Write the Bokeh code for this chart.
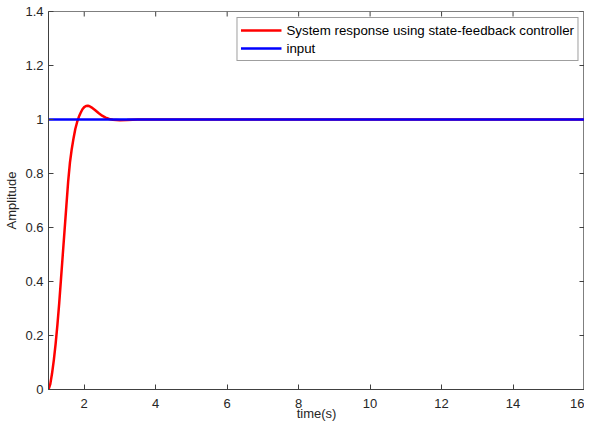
from bokeh.plotting import figure
from bokeh.models import Range1d, FixedTicker, Legend, LegendItem
from bokeh.embed import file_html
from bokeh.resources import INLINE

# data
t_resp = [1.0, 1.05, 1.1, 1.15, 1.2, 1.25, 1.3, 1.35, 1.4, 1.45, 1.5, 1.55, 1.6, 1.65,
          1.7, 1.75, 1.8, 1.85, 1.9, 1.95, 2.0, 2.05, 2.1, 2.15, 2.2, 2.3, 2.4, 2.5,
          2.6, 2.7, 2.8, 3.0, 3.2, 3.5, 16.0]
y_resp = [0.0, 0.02, 0.06, 0.11, 0.17, 0.24, 0.32, 0.41, 0.50, 0.59, 0.68, 0.77, 0.84, 0.89,
          0.93, 0.965, 0.99, 1.01, 1.025, 1.038, 1.046, 1.05, 1.051, 1.049, 1.045, 1.035, 1.024, 1.014,
          1.007, 1.002, 0.999, 0.997, 0.998, 1.0, 1.0]
t_input = [1.0, 16.0]
y_input = [1.0, 1.0]
x_ticks = [2, 4, 6, 8, 10, 12, 14, 16]
y_ticks = [0, 0.2, 0.4, 0.6, 0.8, 1, 1.2, 1.4]
legend_labels = ["System response using state-feedback controller", "input"]

FONT = "Liberation Sans"
X0, X1, Y0, Y1 = 1, 16, 0, 1.4
p = figure(width=584, height=423, output_backend="svg", toolbar_location=None,
           x_range=Range1d(X0, X1), y_range=Range1d(Y0, Y1),
           min_border_left=48, min_border_right=0, min_border_top=11, min_border_bottom=30)
p.xgrid.visible = False
p.ygrid.visible = False
p.outline_line_color = "#7f7f7f"
p.outline_line_width = 1

# inward ticks on the top and right edges of the box (MATLAB style)
tick_dx = (X1 - X0) * 5 / 533
tick_dy = (Y1 - Y0) * 5 / 377
p.segment(x0=x_ticks, x1=x_ticks, y0=[Y1] * len(x_ticks), y1=[Y1 - tick_dy] * len(x_ticks),
          line_color="#404040", line_width=1)
p.segment(x0=[X1] * len(y_ticks), x1=[X1 - tick_dx] * len(y_ticks), y0=y_ticks, y1=y_ticks,
          line_color="#404040", line_width=1)

r1 = p.line(t_resp, y_resp, line_color="#ff0000", line_width=2.5)
r2 = p.line(t_input, y_input, line_color="#0000ff", line_width=2.5)

xa = p.xaxis[0]
xa.ticker = FixedTicker(ticks=x_ticks)
ya = p.yaxis[0]
ya.ticker = FixedTicker(ticks=y_ticks)
for ax in (xa, ya):
    ax.major_tick_in = 5
    ax.major_tick_out = 0
    ax.minor_tick_line_color = None
    ax.axis_line_color = "#404040"
    ax.major_tick_line_color = "#404040"
    ax.major_label_text_font = FONT
    ax.major_label_text_font_size = "13px"
    ax.major_label_text_color = "#262626"
    ax.axis_label_text_font = FONT
    ax.axis_label_text_font_size = "13px"
    ax.axis_label_text_font_style = "normal"
    ax.axis_label_text_color = "#262626"
xa.axis_label = "time(s)"
xa.axis_label_standoff = -5
xa.major_label_standoff = 9
ya.axis_label = "Amplitude"
ya.axis_label_standoff = 3
ya.major_label_standoff = 5
ya.major_label_overrides = {0: "0", 1: "1"}

legend = Legend(items=[LegendItem(label=legend_labels[0], renderers=[r1]),
                       LegendItem(label=legend_labels[1], renderers=[r2])],
                location="top_right")
legend.label_text_font = FONT
legend.label_text_font_size = "13.3px"
legend.label_text_color = "#000000"
legend.border_line_color = "#404040"
legend.border_line_width = 1
legend.glyph_width = 41
legend.glyph_height = 18
legend.label_height = 18
legend.label_standoff = 5
legend.spacing = 0
legend.padding = 3
legend.margin = 6
legend.background_fill_alpha = 1
p.add_layout(legend)

open("out.html", "w").write(file_html(p, INLINE))
